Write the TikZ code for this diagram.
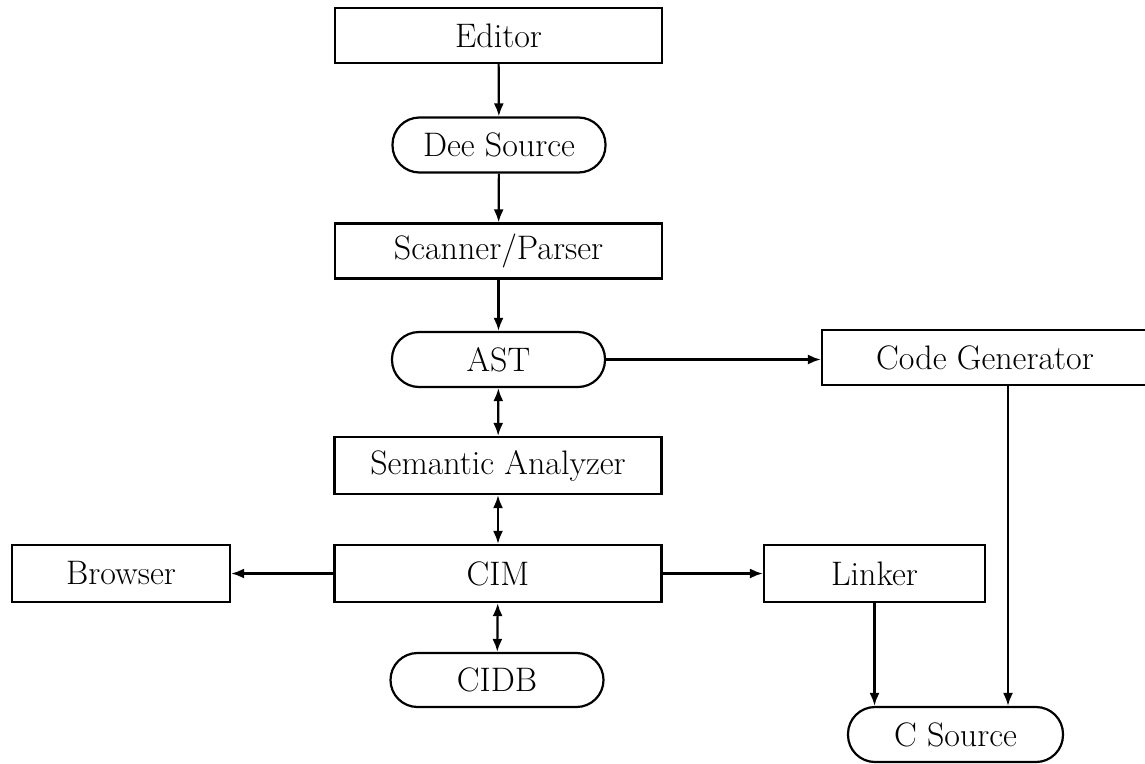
\documentclass[tikz,border=0pt]{standalone}
\usetikzlibrary{arrows.meta}
\begin{document}
\begin{tikzpicture}[x=1pt,y=-1pt,
  every node/.style={font=\fontsize{34}{40}\selectfont, inner sep=0pt, line width=2.2pt},
  boxnode/.style={draw, rectangle, minimum width=327pt, minimum height=55pt},
  pill/.style={draw, rectangle, rounded corners=27pt, minimum width=213pt, minimum height=55pt},
  arr/.style={line width=2.2pt, -{Latex[length=13pt,width=10pt]}},
  darr/.style={line width=2.2pt, {Latex[length=13pt,width=10pt]}-{Latex[length=13pt,width=10pt]}}]
\useasboundingbox (0,0) rectangle (1145,763);
\node[boxnode] (editor) at (498.5,35.5) {Editor};
\node[pill] (dee) at (499,145) {Dee Source};
\node[boxnode] (scan) at (498.5,251) {Scanner/Parser};
\node[pill] (ast) at (498.5,359.5) {AST};
\node[boxnode, minimum height=57pt] (sem) at (498,465.5) {Semantic Analyzer};
\node[boxnode, minimum height=57pt] (cim) at (498,573.5) {CIM};
\node[pill, minimum height=54pt] (cidb) at (497,680) {CIDB};
\node[boxnode, minimum width=218pt, minimum height=57pt] (browser) at (121,573.5) {Browser};
\node[boxnode, minimum width=221pt, minimum height=57pt] (linker) at (874.5,573.5) {Linker};
\node[boxnode, minimum width=326pt] (codegen) at (985,357.5) {Code Generator};
\node[pill, minimum width=215pt] (csrc) at (955.5,734.5) {C Source};
\coordinate (cgx) at (1008,0);
\draw[arr] (editor) -- (dee);
\draw[arr] (dee) -- (scan);
\draw[arr] (scan) -- (ast);
\draw[darr] (ast) -- (sem);
\draw[darr] (sem) -- (cim);
\draw[darr] (cim) -- (cidb);
\draw[arr] (cim) -- (browser);
\draw[arr] (cim) -- (linker);
\draw[arr] (ast.east) -- (codegen.west |- ast.east);
\draw[arr] (linker.south) -- (csrc.north -| linker.south);
\draw[arr] (codegen.south -| cgx) -- (csrc.north -| cgx);
\end{tikzpicture}
\end{document}
